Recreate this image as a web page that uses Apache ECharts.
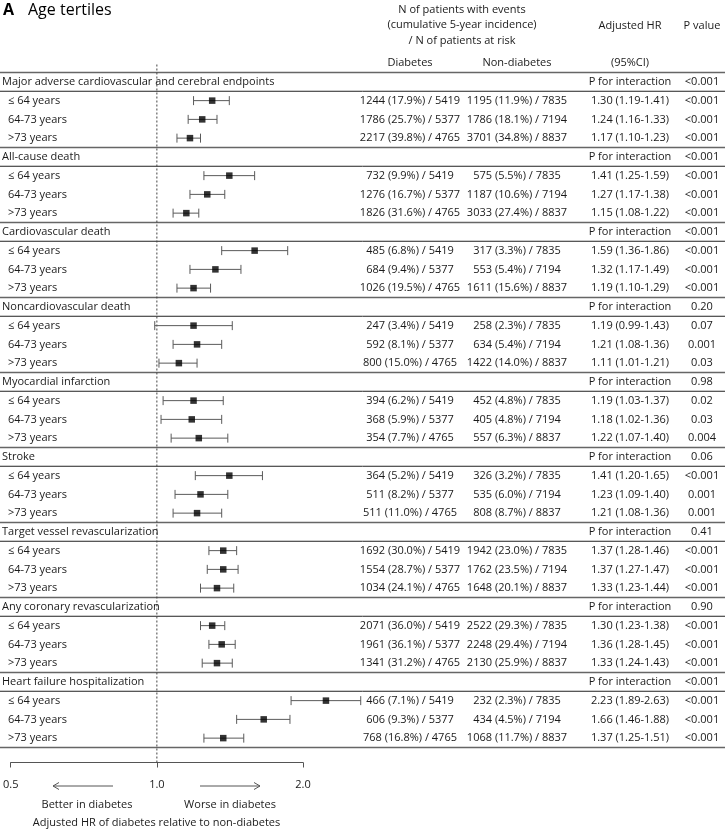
<!DOCTYPE html>
<html><head><meta charset="utf-8">
<script src="https://cdn.jsdelivr.net/npm/echarts@6/dist/echarts.min.js"></script>
<style>html,body{margin:0;padding:0;background:#fff}#c{width:728px;height:832px}</style>
</head><body><div id="c"></div>
<script>
// ---------------- DATA ----------------
const outcomes = [
  'Major adverse cardiovascular and cerebral endpoints',
  'All-cause death',
  'Cardiovascular death',
  'Noncardiovascular death',
  'Myocardial infarction',
  'Stroke',
  'Target vessel revascularization',
  'Any coronary revascularization',
  'Heart failure hospitalization'
];
const pInteraction = ['<0.001', '<0.001', '<0.001', '0.20', '0.98', '0.06', '0.41', '0.90', '<0.001'];
const ageGroups = ['\u2264 64 years', '64-73 years', '>73 years'];
const diabetesAtRisk = [5419, 5377, 4765];
const nonDiabetesAtRisk = [7835, 7194, 8837];
const diabetesEvents = [1244, 1786, 2217, 732, 1276, 1826, 485, 684, 1026, 247, 592, 800, 394, 368, 354, 364, 511, 511, 1692, 1554, 1034, 2071, 1961, 1341, 466, 606, 768];
const diabetesIncidence = [17.9, 25.7, 39.8, 9.9, 16.7, 31.6, 6.8, 9.4, 19.5, 3.4, 8.1, 15.0, 6.2, 5.9, 7.7, 5.2, 8.2, 11.0, 30.0, 28.7, 24.1, 36.0, 36.1, 31.2, 7.1, 9.3, 16.8];
const nonDiabetesEvents = [1195, 1786, 3701, 575, 1187, 3033, 317, 553, 1611, 258, 634, 1422, 452, 405, 557, 326, 535, 808, 1942, 1762, 1648, 2522, 2248, 2130, 232, 434, 1068];
const nonDiabetesIncidence = [11.9, 18.1, 34.8, 5.5, 10.6, 27.4, 3.3, 5.4, 15.6, 2.3, 5.4, 14.0, 4.8, 4.8, 6.3, 3.2, 6.0, 8.7, 23.0, 23.5, 20.1, 29.3, 29.4, 25.9, 2.3, 4.5, 11.7];
const hr = [1.30, 1.24, 1.17, 1.41, 1.27, 1.15, 1.59, 1.32, 1.19, 1.19, 1.21, 1.11, 1.19, 1.18, 1.22, 1.41, 1.23, 1.21, 1.37, 1.37, 1.33, 1.30, 1.36, 1.33, 2.23, 1.66, 1.37];
const hrLower = [1.19, 1.16, 1.10, 1.25, 1.17, 1.08, 1.36, 1.17, 1.10, 0.99, 1.08, 1.01, 1.03, 1.02, 1.07, 1.20, 1.09, 1.08, 1.28, 1.27, 1.23, 1.23, 1.28, 1.24, 1.89, 1.46, 1.25];
const hrUpper = [1.41, 1.33, 1.23, 1.59, 1.38, 1.22, 1.86, 1.49, 1.29, 1.43, 1.36, 1.21, 1.37, 1.36, 1.40, 1.65, 1.40, 1.36, 1.46, 1.47, 1.44, 1.38, 1.45, 1.43, 2.63, 1.88, 1.51];
const pValue = ['<0.001', '<0.001', '<0.001', '<0.001', '<0.001', '<0.001', '<0.001', '<0.001', '<0.001', '0.07', '0.001', '0.03', '0.02', '0.03', '0.004', '<0.001', '0.001', '0.001', '<0.001', '<0.001', '<0.001', '<0.001', '<0.001', '<0.001', '<0.001', '<0.001', '<0.001'];
const tickValues = [0.5, 1.0, 2.0];

// ---------------- BUILD ----------------
const FONT = '"Open Sans", sans-serif';
const TXT = '#1a1a1a';
const col = { title: 2, sub: 8, diab: 410, nondiab: 517, hr: 630, p: 702, right: 725 };
const nRows = outcomes.length * (ageGroups.length + 1);

const tableRows = [];
const ciData = [];
const pointData = [];
outcomes.forEach((name, g) => {
  const base = g * (ageGroups.length + 1);
  tableRows.push({ row: base, label: name, sub: false, d: '', nd: '', hr: 'P for interaction', p: pInteraction[g] });
  ageGroups.forEach((a, j) => {
    const i = g * ageGroups.length + j;
    const row = base + 1 + j;
    tableRows.push({
      row, label: a, sub: true,
      d: diabetesEvents[i] + ' (' + diabetesIncidence[i].toFixed(1) + '%) / ' + diabetesAtRisk[j],
      nd: nonDiabetesEvents[i] + ' (' + nonDiabetesIncidence[i].toFixed(1) + '%) / ' + nonDiabetesAtRisk[j],
      hr: hr[i].toFixed(2) + ' (' + hrLower[i].toFixed(2) + '-' + hrUpper[i].toFixed(2) + ')',
      p: pValue[i]
    });
    ciData.push([hrLower[i], hrUpper[i], row]);
    pointData.push([hr[i], row]);
  });
});
// table rules: group separators and title underlines
const rules = [];
outcomes.forEach((n, g) => {
  const base = g * (ageGroups.length + 1);
  rules.push([1, base - 0.5, 0]);
  rules.push([1, base + 0.5, 1]);
});
rules.push([1, nRows - 0.5, 0]);

function txt(text, x, y, align, extra) {
  return Object.assign({ type: 'text', style: { text, x, y, align: align || 'left', verticalAlign: 'middle', fill: TXT, font: '11px ' + FONT } }, extra || {});
}

const chart = echarts.init(document.getElementById('c'), null, { renderer: 'canvas' });
chart.setOption({
  animation: false,
  backgroundColor: '#fff',
  grid: { left: 10, top: 72.5, width: 293, height: 675 },
  xAxis: {
    type: 'log', logBase: 2, min: tickValues[0], max: tickValues[tickValues.length - 1],
    position: 'bottom',
    offset: 15,
    axisLine: { show: true, onZero: false, lineStyle: { color: '#555', width: 1 } },
    axisTick: { show: true, inside: false, length: 5, lineStyle: { color: '#555', width: 1 } },
    axisLabel: { margin: 17, color: TXT, fontSize: 11, fontFamily: FONT, formatter: v => Number(v).toFixed(1) },
    splitLine: { show: false }, minorTick: { show: false }
  },
  yAxis: { type: 'value', min: -0.5, max: nRows - 0.5, inverse: true, show: false },
  graphic: [
    { type: 'text', left: 3, top: 2, style: { text: 'A', fill: '#000', font: 'bold 16px ' + FONT } },
    { type: 'text', left: 28, top: 2, style: { text: 'Age tertiles', fill: '#000', font: '16px ' + FONT } },
    txt('N of patients with events', 462, 9.5, 'center'),
    txt('(cumulative 5-year incidence)', 462, 25, 'center'),
    txt('/ N of patients at risk', 462, 40.5, 'center'),
    txt('Adjusted HR', col.hr, 26, 'center'),
    txt('P value', col.p, 26, 'center'),
    txt('Diabetes', col.diab, 63, 'center'),
    txt('Non-diabetes', col.nondiab, 63, 'center'),
    txt('(95%CI)', col.hr, 63, 'center'),
    { type: 'line', shape: { x1: 53, y1: 786, x2: 113, y2: 786 }, style: { stroke: '#555', lineWidth: 1 } },
    { type: 'polyline', shape: { points: [[59, 782.5], [53, 786], [59, 789.5]] }, style: { stroke: '#555', lineWidth: 1, fill: null } },
    { type: 'line', shape: { x1: 200, y1: 786, x2: 260, y2: 786 }, style: { stroke: '#555', lineWidth: 1 } },
    { type: 'polyline', shape: { points: [[254, 782.5], [260, 786], [254, 789.5]] }, style: { stroke: '#555', lineWidth: 1, fill: null } },
    txt('Better in diabetes', 87, 805, 'center'),
    txt('Worse in diabetes', 230, 805, 'center'),
    txt('Adjusted HR of diabetes relative to non-diabetes', 156.5, 823, 'center')
  ],
  series: [
    { // table rules
      type: 'custom', clip: false, silent: true, z: 1,
      data: rules,
      encode: { x: 0, y: 1 },
      renderItem: (params, api) => {
        const y = api.coord([1, api.value(1)])[1];
        const kind = api.value(2);
        return { type: 'line', shape: { x1: 0, y1: y, x2: col.right, y2: y },
          style: kind === 0 ? { stroke: '#666', lineWidth: 1.5 } : { stroke: '#222', lineWidth: 1 } };
      }
    },
    { // reference line at HR = 1
      type: 'custom', clip: false, silent: true, z: 2,
      data: [[1, -0.5]],
      encode: { x: 0, y: 1 },
      renderItem: (params, api) => {
        const p = api.coord([api.value(0), api.value(1)]);
        const cs = params.coordSys;
        return { type: 'line', shape: { x1: p[0], y1: p[1] - 8, x2: p[0], y2: cs.y + cs.height + 15 },
          style: { stroke: '#444', lineWidth: 1, lineDash: [2, 2] } };
      }
    },
    { // confidence intervals
      type: 'custom', clip: false, silent: true, z: 3,
      data: ciData,
      encode: { x: [0, 1], y: 2 },
      renderItem: (params, api) => {
        const a = api.coord([api.value(0), api.value(2)]);
        const b = api.coord([api.value(1), api.value(2)]);
        const st = { stroke: '#5a5a5a', lineWidth: 1 };
        return { type: 'group', children: [
          { type: 'line', shape: { x1: a[0], y1: a[1], x2: b[0], y2: b[1] }, style: st },
          { type: 'line', shape: { x1: a[0], y1: a[1] - 4.5, x2: a[0], y2: a[1] + 4.5 }, style: st },
          { type: 'line', shape: { x1: b[0], y1: b[1] - 4.5, x2: b[0], y2: b[1] + 4.5 }, style: st }
        ] };
      }
    },
    { // point estimates
      type: 'scatter', clip: false, silent: true, z: 4,
      symbol: 'rect', symbolSize: 6.5,
      itemStyle: { color: '#000' },
      data: pointData
    },
    { // table text
      type: 'custom', clip: false, silent: true, z: 5,
      data: tableRows.map(r => [1, r.row]),
      encode: { x: 0, y: 1 },
      renderItem: (params, api) => {
        const r = tableRows[params.dataIndex];
        const y = api.coord([1, api.value(1)])[1];
        const ch = [txt(r.label, r.sub ? col.sub : col.title, y, 'left')];
        if (r.d) ch.push(txt(r.d, col.diab, y, 'center'));
        if (r.nd) ch.push(txt(r.nd, col.nondiab, y, 'center'));
        ch.push(txt(r.hr, col.hr, y, 'center'));
        ch.push(txt(r.p, col.p, y, 'center'));
        return { type: 'group', children: ch };
      }
    }
  ]
});
</script>
</body></html>
